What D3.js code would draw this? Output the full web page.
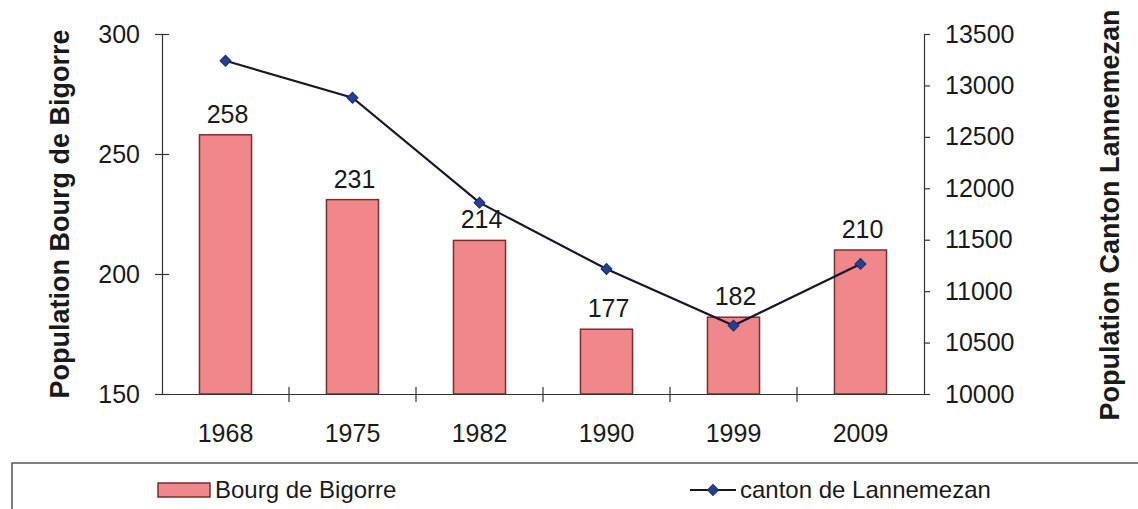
<!DOCTYPE html>
<html>
<head>
<meta charset="utf-8">
<script src="https://cdn.jsdelivr.net/npm/d3@7"></script>
<style>
  html, body { margin: 0; padding: 0; background: #fff; }
  svg { display: block; font-family: "Liberation Sans", Arial, sans-serif; }
</style>
</head>
<body>
<svg id="chart" width="1138" height="509"></svg>
<script>
const years = ["1968", "1975", "1982", "1990", "1999", "2009"];
const bourgValues = [258, 231, 214, 177, 182, 210];
const cantonValues = [13240, 12880, 11860, 11215, 10665, 11265];
const leftTicks = [150, 200, 250, 300];
const rightTicks = [10000, 10500, 11000, 11500, 12000, 12500, 13000, 13500];
const seriesNames = ["Bourg de Bigorre", "canton de Lannemezan"];
const axisTitles = ["Population Bourg de Bigorre", "Population Canton Lannemezan"];

const svg = d3.select("#chart");
const plot = { left: 162, right: 924, top: 34, bottom: 394 };
const textColor = "#1a1a1a";
const barFill = "#f0878a";
const barStroke = "#7a2e2e";
const lineColor = "#15172e";
const markerColor = "#24408e";
const axisColor = "#333";
const tickFont = 25;

const x = d3.scaleBand().domain(years).range([plot.left, plot.right])
  .paddingInner(0.59).paddingOuter(0.295);
const yL = d3.scaleLinear().domain([150, 300]).range([plot.bottom, plot.top]);
const yR = d3.scaleLinear().domain([10000, 13500]).range([plot.bottom, plot.top]);

// bars
svg.append("g").selectAll("rect").data(years).join("rect")
  .attr("x", d => x(d))
  .attr("y", (d, i) => yL(bourgValues[i]))
  .attr("width", x.bandwidth())
  .attr("height", (d, i) => yL(150) - yL(bourgValues[i]))
  .attr("fill", barFill)
  .attr("stroke", barStroke)
  .attr("stroke-width", 1.5);

// bar labels
svg.append("g").selectAll("text").data(years).join("text")
  .attr("x", d => x(d) + x.bandwidth() / 2 + 2)
  .attr("y", (d, i) => yL(bourgValues[i]) - 12)
  .attr("text-anchor", "middle")
  .attr("font-size", tickFont)
  .attr("fill", textColor)
  .text((d, i) => bourgValues[i]);

// left axis
const gL = svg.append("g").attr("transform", `translate(${plot.left},0)`)
  .call(d3.axisLeft(yL).tickValues(leftTicks).tickSize(7).tickSizeOuter(0).tickPadding(15));
gL.selectAll(".tick").append("line").attr("x1", 0).attr("x2", 7).attr("stroke", "currentColor");

// right axis
const gR = svg.append("g").attr("transform", `translate(${plot.right},0)`)
  .call(d3.axisRight(yR).tickValues(rightTicks).tickFormat(d3.format("d"))
    .tickSize(6).tickSizeOuter(0).tickPadding(15));

// bottom axis
const gB = svg.append("g").attr("transform", `translate(0,${plot.bottom})`)
  .call(d3.axisBottom(x).tickSize(0).tickSizeOuter(0).tickPadding(30));
gB.select(".domain").attr("d", `M${plot.left},0.5H${plot.right + 6}`);
const step = x.step();
gB.selectAll("line.boundary").data(years.slice(1)).join("line")
  .attr("class", "boundary")
  .attr("x1", (d, i) => plot.left + step * (i + 1))
  .attr("x2", (d, i) => plot.left + step * (i + 1))
  .attr("y1", -7).attr("y2", 8)
  .attr("stroke", axisColor);

[gL, gR, gB].forEach(g => {
  g.selectAll("path, line").attr("stroke", axisColor).attr("stroke-width", 1.2);
  g.selectAll("text").attr("font-size", tickFont).attr("fill", textColor)
    .attr("font-family", "Liberation Sans, Arial, sans-serif");
});

// line series
const line = d3.line()
  .x((d, i) => x(years[i]) + x.bandwidth() / 2)
  .y(d => yR(d));
svg.append("path").datum(cantonValues)
  .attr("d", line)
  .attr("fill", "none")
  .attr("stroke", lineColor)
  .attr("stroke-width", 2.2);
const diamond = d3.symbol().type(d3.symbolSquare).size(60);
svg.append("g").selectAll("path").data(cantonValues).join("path")
  .attr("d", diamond)
  .attr("transform", (d, i) => `translate(${x(years[i]) + x.bandwidth() / 2},${yR(d)}) rotate(45)`)
  .attr("fill", markerColor)
  .attr("stroke", "#1a2d6e")
  .attr("stroke-width", 1);

// axis titles
svg.append("text")
  .attr("transform", "translate(69,214) rotate(-90)")
  .attr("text-anchor", "middle")
  .attr("font-size", 27).attr("font-weight", "bold").attr("fill", textColor)
  .text(axisTitles[0]);
svg.append("text")
  .attr("transform", "translate(1119,215) rotate(-90)")
  .attr("text-anchor", "middle")
  .attr("font-size", 27).attr("font-weight", "bold").attr("fill", textColor)
  .text(axisTitles[1]);

// legend box
svg.append("path")
  .attr("d", "M12,509V463H1138")
  .attr("fill", "none")
  .attr("stroke", "#555")
  .attr("stroke-width", 1.5);

// legend: bars
svg.append("rect")
  .attr("x", 158).attr("y", 483).attr("width", 52).attr("height", 14)
  .attr("fill", barFill).attr("stroke", barStroke).attr("stroke-width", 1.5);
svg.append("text")
  .attr("x", 215).attr("y", 498)
  .attr("font-size", 24).attr("fill", textColor)
  .text(seriesNames[0]);

// legend: line
svg.append("line")
  .attr("x1", 690).attr("x2", 736).attr("y1", 490).attr("y2", 490)
  .attr("stroke", lineColor).attr("stroke-width", 2.2);
svg.append("path")
  .attr("d", diamond)
  .attr("transform", "translate(713,490) rotate(45)")
  .attr("fill", markerColor).attr("stroke", "#1a2d6e");
svg.append("text")
  .attr("x", 740).attr("y", 498)
  .attr("font-size", 24).attr("fill", textColor)
  .text(seriesNames[1]);
</script>
</body>
</html>
